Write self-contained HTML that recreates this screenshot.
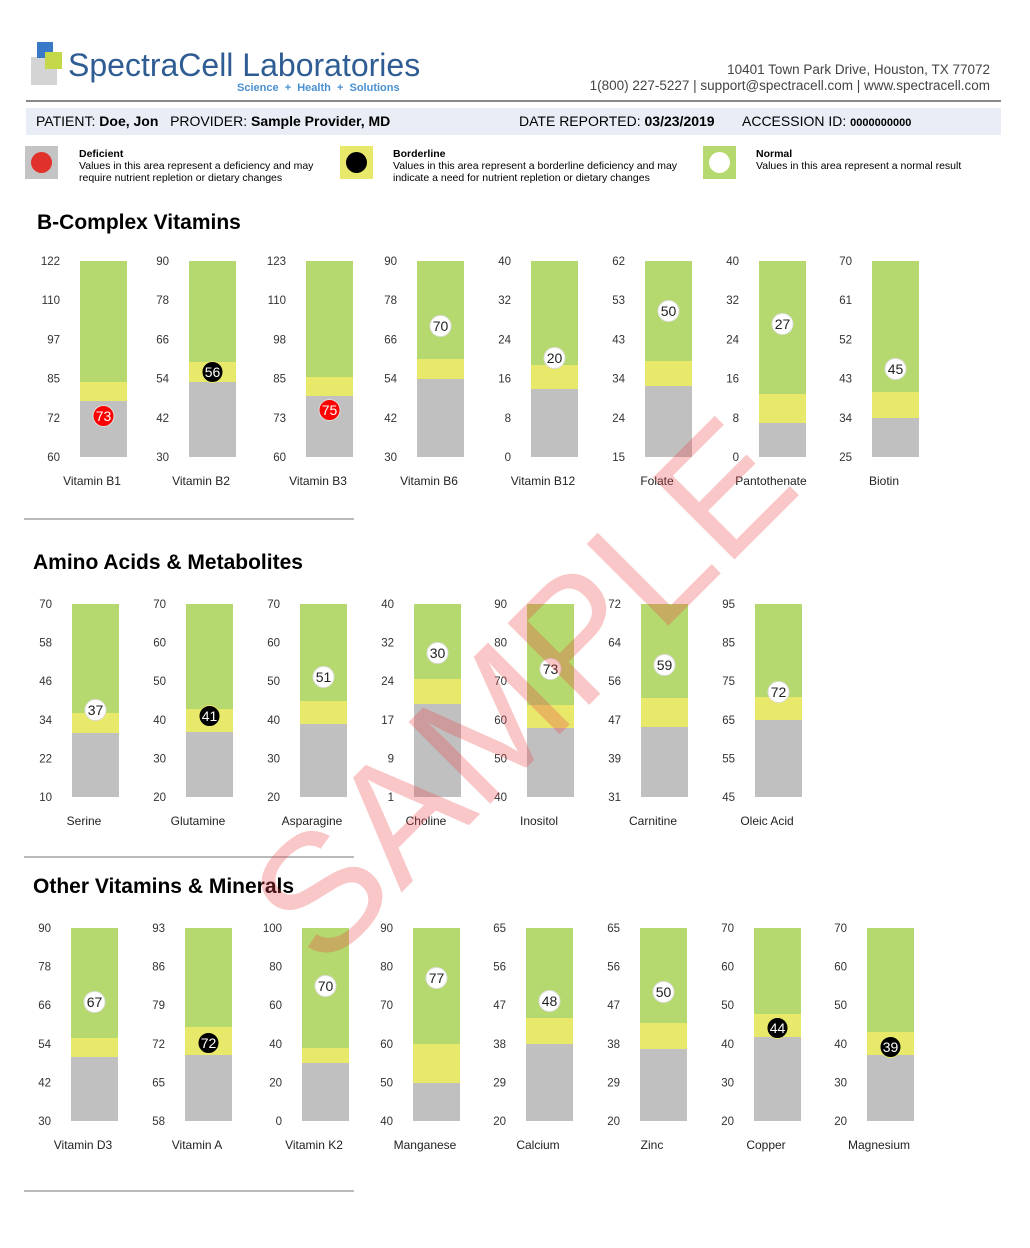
<!DOCTYPE html>
<html><head><meta charset="utf-8">
<style>
body{margin:0;background:#fff;font-family:"Liberation Sans",Arial,sans-serif;}
#wrap{position:relative;width:1030px;height:1248px;overflow:hidden;}
.abs{position:absolute;}
</style></head>
<body><div id="wrap">
<div class="abs" style="left:31px;top:57px;width:26px;height:28px;background:#d4d4d4"></div>
<div class="abs" style="left:37px;top:42px;width:16px;height:16px;background:#3a78c8"></div>
<div class="abs" style="left:45px;top:52px;width:17px;height:17px;background:#c4d84a"></div>
<div class="abs" style="left:68px;top:47px;font-size:32px;color:#2f5d93;letter-spacing:0px">SpectraCell Laboratories</div>
<div class="abs" style="left:237px;top:82px;font-size:11px;font-weight:bold;color:#4a90d0">Science&nbsp;&nbsp;+&nbsp;&nbsp;Health&nbsp;&nbsp;+&nbsp;&nbsp;Solutions</div>
<div class="abs" style="right:40px;top:62px;font-size:13.5px;color:#444;text-align:right;line-height:16px">10401 Town Park Drive, Houston, TX 77072<br>1(800) 227-5227 | support@spectracell.com | www.spectracell.com</div>
<div class="abs" style="left:26px;top:100px;width:975px;height:2px;background:#888"></div>
<div class="abs" style="left:26px;top:108px;width:975px;height:27px;background:#e8edf6"></div>
<div class="abs" style="left:36px;top:113px;font-size:14px;color:#000">PATIENT: <b>Doe, Jon</b>&nbsp;&nbsp;&nbsp;PROVIDER: <b>Sample Provider, MD</b></div>
<div class="abs" style="left:519px;top:113px;font-size:14px;color:#000">DATE REPORTED: <b>03/23/2019</b></div>
<div class="abs" style="left:742px;top:113px;font-size:14px;color:#000">ACCESSION ID: <b style="font-size:11px">0000000000</b></div>
<div class="abs" style="left:25px;top:146px;width:33px;height:33px;background:#c4c4c4"></div>
<div class="abs" style="left:31px;top:152px;width:21px;height:21px;border-radius:50%;background:#e0312a"></div>
<div class="abs" style="left:79px;top:148px;font-size:10.5px;line-height:12px;color:#000"><b>Deficient</b><br>Values in this area represent a deficiency and may<br>require nutrient repletion or dietary changes</div>
<div class="abs" style="left:340px;top:146px;width:33px;height:33px;background:#e8e86a"></div>
<div class="abs" style="left:346px;top:152px;width:21px;height:21px;border-radius:50%;background:#000"></div>
<div class="abs" style="left:393px;top:148px;font-size:10.5px;line-height:12px;color:#000"><b>Borderline</b><br>Values in this area represent a borderline deficiency and may<br>indicate a need for nutrient repletion or dietary changes</div>
<div class="abs" style="left:703px;top:146px;width:33px;height:33px;background:#b5d96e"></div>
<div class="abs" style="left:709px;top:152px;width:21px;height:21px;border-radius:50%;background:#fff"></div>
<div class="abs" style="left:756px;top:148px;font-size:10.5px;line-height:12px;color:#000"><b>Normal</b><br>Values in this area represent a normal result</div>

<div class="abs" style="left:37px;top:211px;font-size:21px;font-weight:bold">B-Complex Vitamins</div>
<div class="abs" style="left:33px;top:551px;font-size:21px;font-weight:bold">Amino Acids &amp; Metabolites</div>
<div class="abs" style="left:33px;top:875px;font-size:21px;font-weight:bold">Other Vitamins &amp; Minerals</div>
<div class="abs" style="left:24px;top:518px;width:330px;height:2px;background:#bbb"></div>
<div class="abs" style="left:24px;top:856px;width:330px;height:2px;background:#bbb"></div>
<div class="abs" style="left:24px;top:1190px;width:330px;height:2px;background:#bbb"></div>

<svg id="ch" class="abs" style="left:0;top:0" width="1030" height="1248" font-family="Liberation Sans, DejaVu Sans, sans-serif"></svg>

<div class="abs" style="left:522px;top:690px;width:0;height:0">
<div style="position:absolute;left:-400px;top:-100px;width:800px;text-align:center;font-size:168px;line-height:200px;color:rgba(236,70,70,0.3);transform:rotate(-45deg)">SAMPLE</div>
</div>
</div>
<script>
var S=[
 {t:261,b:457,n:481,c:[
  [80,"122,110,97,85,72,60",382,401,"73",416,"r","Vitamin B1"],
  [189,"90,78,66,54,42,30",362,382,"56",372,"k","Vitamin B2"],
  [306,"123,110,98,85,73,60",377,396,"75",410,"r","Vitamin B3"],
  [417,"90,78,66,54,42,30",359,379,"70",326,"w","Vitamin B6"],
  [531,"40,32,24,16,8,0",365,389,"20",358,"w","Vitamin B12"],
  [645,"62,53,43,34,24,15",361,386,"50",311,"w","Folate"],
  [759,"40,32,24,16,8,0",394,423,"27",324,"w","Pantothenate"],
  [872,"70,61,52,43,34,25",392,418,"45",369,"w","Biotin"]]},
 {t:604,b:797,n:821,c:[
  [72,"70,58,46,34,22,10",713,733,"37",710,"w","Serine"],
  [186,"70,60,50,40,30,20",709,732,"41",716,"k","Glutamine"],
  [300,"70,60,50,40,30,20",701,724,"51",677,"w","Asparagine"],
  [414,"40,32,24,17,9,1",679,704,"30",653,"w","Choline"],
  [527,"90,80,70,60,50,40",705,728,"73",669,"w","Inositol"],
  [641,"72,64,56,47,39,31",698,727,"59",665,"w","Carnitine"],
  [755,"95,85,75,65,55,45",697,720,"72",692,"w","Oleic Acid"]]},
 {t:928,b:1121,n:1145,c:[
  [71,"90,78,66,54,42,30",1038,1057,"67",1002,"w","Vitamin D3"],
  [185,"93,86,79,72,65,58",1027,1055,"72",1043,"k","Vitamin A"],
  [302,"100,80,60,40,20,0",1048,1063,"70",986,"w","Vitamin K2"],
  [413,"90,80,70,60,50,40",1044,1083,"77",978,"w","Manganese"],
  [526,"65,56,47,38,29,20",1018,1044,"48",1001,"w","Calcium"],
  [640,"65,56,47,38,29,20",1023,1049,"50",992,"w","Zinc"],
  [754,"70,60,50,40,30,20",1014,1037,"44",1028,"k","Copper"],
  [867,"70,60,50,40,30,20",1032,1055,"39",1047,"k","Magnesium"]]}];
var h="";
S.forEach(function(s){s.c.forEach(function(c){
 var x=c[0],w=47,tk=c[1].split(",");
 h+='<rect x="'+x+'" y="'+s.t+'" width="'+w+'" height="'+(c[2]-s.t)+'" fill="#b5d96e"/>';
 h+='<rect x="'+x+'" y="'+c[2]+'" width="'+w+'" height="'+(c[3]-c[2])+'" fill="#e8e86a"/>';
 h+='<rect x="'+x+'" y="'+c[3]+'" width="'+w+'" height="'+(s.b-c[3])+'" fill="#c0c0c0"/>';
 for(var i=0;i<6;i++){var y=s.t+(s.b-s.t)*i/5;
  h+='<text x="'+(x-20)+'" y="'+(y+4)+'" font-size="11.5" fill="#333" text-anchor="end">'+tk[i]+'</text>';}
 h+='<text x="'+(x+12)+'" y="'+(s.n+4)+'" font-size="12" fill="#222" text-anchor="middle">'+c[7]+'</text>';
 var cx=x+w/2,f=c[6]=="r"?"#f00":c[6]=="k"?"#000":"#fff",tc=c[6]=="w"?"#222":"#fff";
 h+='<circle cx="'+cx+'" cy="'+c[5]+'" r="10.5" fill="'+f+'" stroke="'+(c[6]=="k"?"#e8e86a":"#ddd")+'" stroke-width="1"/>';
 h+='<text x="'+cx+'" y="'+(c[5]+5)+'" font-size="14" fill="'+tc+'" text-anchor="middle">'+c[4]+'</text>';
});});
document.getElementById("ch").innerHTML=h;
</script>
</body></html>
